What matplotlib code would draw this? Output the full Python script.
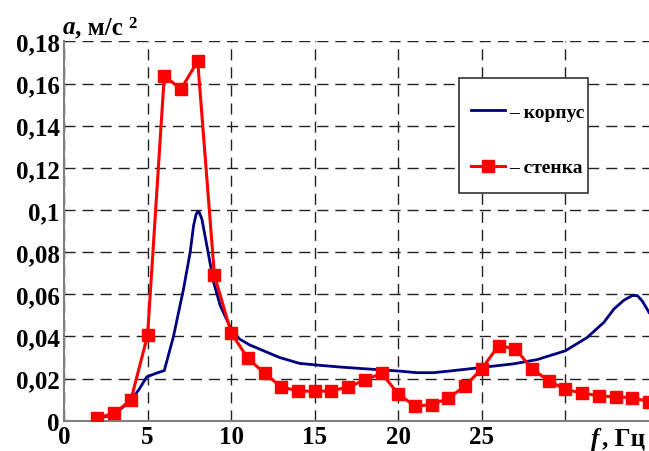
import matplotlib
matplotlib.use('Agg')
import matplotlib.pyplot as plt
import matplotlib.patches as patches

plt.rcParams['font.family'] = ['Liberation Serif', 'DejaVu Serif']
plt.rcParams['font.weight'] = 'bold'

# стенка (маркеры)
wall_f = list(range(2, 36))
wall_a = [0.0013, 0.0035, 0.0098, 0.0405, 0.1637, 0.1574, 0.1707, 0.069, 0.0417,
          0.0296, 0.0225, 0.016, 0.0142, 0.0139, 0.0142, 0.016, 0.0193, 0.0225,
          0.0127, 0.0069, 0.0076, 0.0107, 0.0165, 0.0247, 0.0357, 0.0341, 0.0247,
          0.0189, 0.0149, 0.0131, 0.0118, 0.0113, 0.011, 0.009]

# корпус (линия)
body_f = [2, 3, 4, 4.5, 4.95, 5.5, 6.0, 6.55, 7.15, 7.55, 7.75, 7.9, 8.0, 8.1,
          8.25, 8.55, 8.95, 9.35, 9.95, 10.5, 11.1, 12.0, 12.9, 14.1, 15.3, 16.5,
          17.9, 20.0, 21.1, 22.1, 23.1, 24.9, 26.9, 28.3, 30.0, 31.3, 32.3, 32.9,
          33.5, 34.0, 34.3, 34.6, 35.0]
body_a = [0.001, 0.003, 0.0095, 0.015, 0.0208, 0.0225, 0.0238, 0.040, 0.0625, 0.080,
          0.0925, 0.0978, 0.0993, 0.0988, 0.0957, 0.083, 0.0657, 0.0546, 0.0443,
          0.0388, 0.036, 0.033, 0.030, 0.0272, 0.0263, 0.0255, 0.0247, 0.0236,
          0.0228, 0.0228, 0.0236, 0.0252, 0.027, 0.029, 0.0332, 0.0395, 0.0467,
          0.053, 0.0572, 0.0594, 0.0594, 0.0568, 0.0514]

y_ticks = [0, 0.02, 0.04, 0.06, 0.08, 0.1, 0.12, 0.14, 0.16, 0.18]
y_labels = ['0', '0,02', '0,04', '0,06', '0,08', '0,1', '0,12', '0,14', '0,16', '0,18']
x_ticks = [0, 5, 10, 15, 20, 25, 30]
x_labels = ['0', '5', '10', '15', '20', '25', '']

fig = plt.figure(figsize=(6.49, 4.52), dpi=100)
ax = fig.add_axes([0.0986, 0.067, 0.9014, 0.839])

ax.plot(body_f, body_a, color='#000080', lw=2, label='– корпус', zorder=3)
ax.plot(wall_f, wall_a, color='#ff0000', lw=2.2, marker='s', markersize=9,
        label='– стенка', zorder=4)

ax.set_xlim(0, 35)
ax.set_ylim(0, 0.18)
ax.set_xticks(x_ticks)
ax.set_xticklabels(x_labels)
ax.set_yticks(y_ticks)
ax.set_yticklabels(y_labels)
ax.tick_params(labelsize=18, length=0, pad=3)

ax.grid(True, color='#222222', linestyle=(0, (8, 5)), lw=1)
for s in ['top', 'right']:
    ax.spines[s].set_visible(False)
for s in ['left', 'bottom']:
    ax.spines[s].set_color('#808080')
    ax.spines[s].set_linewidth(1.5)

# рамка легенды
box = patches.Rectangle((0.675, 0.600), 0.2205, 0.303, transform=ax.transAxes,
                        facecolor='white', edgecolor='#333333', lw=1.2, zorder=5)
ax.add_patch(box)
leg = ax.legend(loc='upper left', bbox_to_anchor=(0.696, 0.837), fontsize=14,
                handlelength=1.75, handletextpad=0.2, labelspacing=1.95,
                borderpad=0, borderaxespad=0, frameon=False)
leg.set_zorder(6)

# подписи осей
fig.text(63, 418, 'a', fontsize=18, style='italic', weight='bold',
         transform=None)
fig.text(75, 418, ', м/с', fontsize=18, weight='bold', transform=None)
fig.text(128, 424, '2', fontsize=12, weight='bold', transform=None)
fig.text(591, 6, 'f', fontsize=18, style='italic', weight='bold', transform=None)
fig.text(602, 6, ', Гц', fontsize=18, weight='bold', transform=None)

fig.savefig('out.png', dpi=100)
